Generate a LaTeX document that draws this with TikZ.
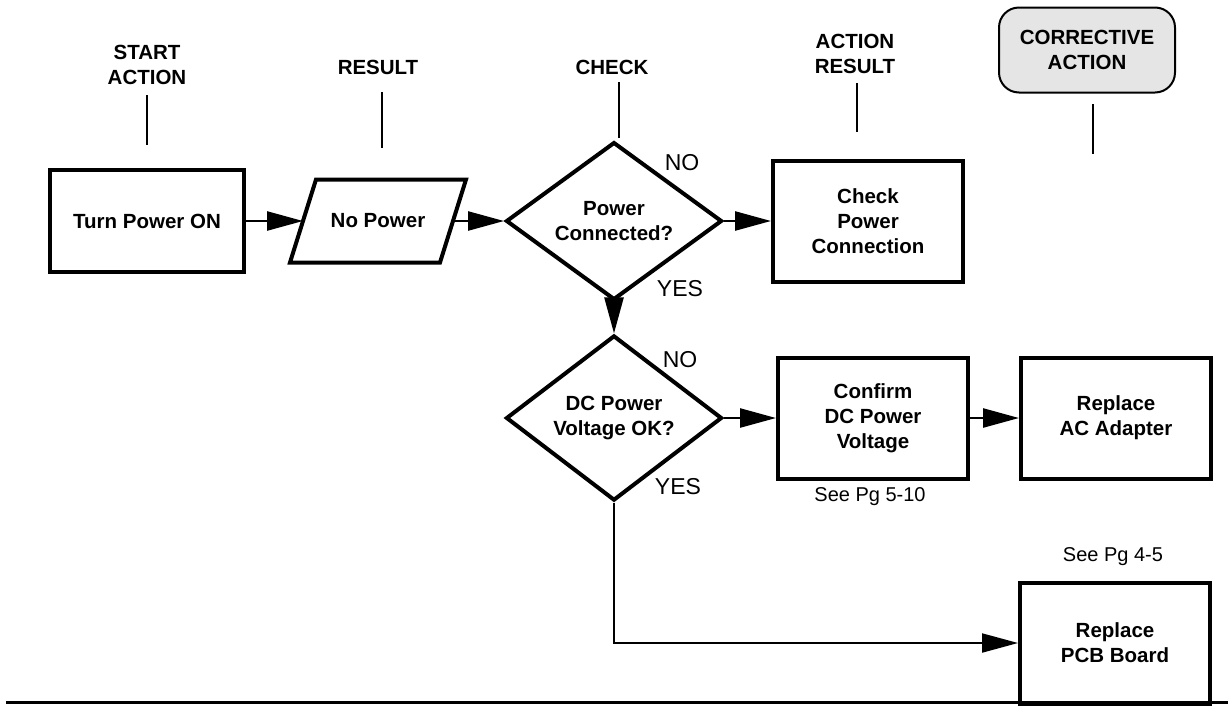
\documentclass[tikz,border=0pt]{standalone}
\usepackage{fontspec}
\setmainfont{Liberation Sans}
\usetikzlibrary{shapes.geometric,arrows.meta}

\begin{document}
\begin{tikzpicture}[x=1pt,y=-1pt,
    every node/.style={align=center,inner sep=0pt},
    hdr/.style={font=\fontsize{20.5}{25}\selectfont\bfseries},
    stepbox/.style={draw,line width=4pt,minimum width=190pt,minimum height=121pt,font=\fontsize{20.5}{25}\selectfont\bfseries},
    iobox/.style={minimum width=146pt,minimum height=79pt,outer sep=2pt,font=\fontsize{20.5}{25}\selectfont\bfseries},
    ask/.style={draw,diamond,line width=4pt,minimum width=216pt,minimum height=122pt,font=\fontsize{20.5}{25}\selectfont\bfseries},
    corrbox/.style={draw,rounded corners=20pt,fill=black!10,line width=2pt,minimum width=176pt,minimum height=85pt},
    yn/.style={font=\fontsize{23}{27}\selectfont},
    note/.style={font=\fontsize{20}{24}\selectfont},
    tick/.style={line width=2pt},
    flow/.style={line width=2.5pt,-{Triangle[length=36pt,width=19pt]}}]
    \useasboundingbox (0,0) rectangle (1228,705);
    \node[hdr] (hstart) at (147,65) {START\\ACTION};
    \node[hdr] (hres) at (378,67) {RESULT};
    \node[hdr] (hchk) at (612,67) {CHECK};
    \node[hdr] (hactres) at (855,54) {ACTION\\RESULT};
    \node[hdr,corrbox] (hcorr) at (1087,50) {CORRECTIVE\\ACTION};
    \draw[tick] (147,95) -- (147,145);
    \draw[tick] (382,92) -- (382,148);
    \draw[tick] (619,82) -- (619,138);
    \draw[tick] (857,83) -- (857,132);
    \draw[tick] (1093,104) -- (1093,154);
    \node[stepbox,minimum width=194pt,minimum height=102pt] (power) at (147,221) {Turn Power ON};
    \node[iobox] (nopwr) at (378,221) {No Power};
    \draw[line width=4pt] ([xshift=13pt]nopwr.north west) -- ([xshift=13pt]nopwr.north east)
        -- ([xshift=-13pt]nopwr.south east) -- ([xshift=-13pt]nopwr.south west) -- cycle;
    \node[ask] (conn) at (614,221) {Power\\Connected?};
    \node[stepbox] (chkconn) at (868,221) {Check\\Power\\Connection};
    \node[ask] (dcok) at (614,418) {DC Power\\Voltage OK?};
    \node[stepbox] (confirm) at (873,418) {Confirm\\DC Power\\Voltage};
    \node[stepbox] (acadp) at (1116,418) {Replace\\AC Adapter};
    \node[stepbox] (pcb) at (1115,643) {Replace\\PCB Board};
    \node[yn] (no1) at (682,163) {NO};
    \node[yn] (yes1) at (680,289) {YES};
    \node[yn] (no2) at (680,360) {NO};
    \node[yn] (yes2) at (678,487) {YES};
    \node[note] (pg510) at (870,497) {See Pg 5-10};
    \node[note] (pg45) at (1113,557) {See Pg 4-5};
    \draw[flow] (power) -- (nopwr);
    \draw[flow] (nopwr) -- (conn);
    \draw[flow] (conn) -- (chkconn);
    \draw[flow] (conn) -- (dcok);
    \draw[flow] (dcok) -- (confirm);
    \draw[flow] (confirm) -- (acadp);
    \draw[flow,line width=2pt] (dcok.south) |- (pcb);
    \draw[line width=3pt] (6,702) -- (1228,702);
\end{tikzpicture}
\end{document}
